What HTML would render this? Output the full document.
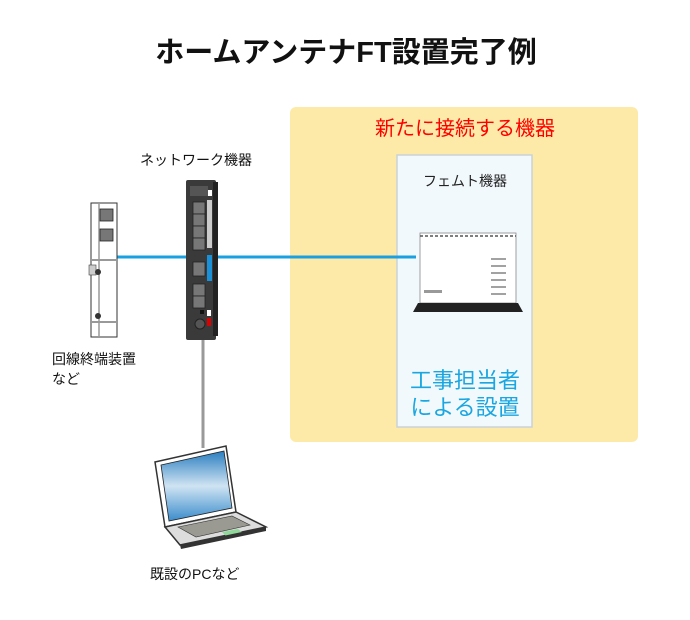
<!DOCTYPE html>
<html><head><meta charset="utf-8"><style>
body{margin:0;background:#fff;}
svg{display:block;}
text{font-family:"Liberation Sans","Noto Sans CJK JP",sans-serif;}
</style></head><body>
<svg width="690" height="620" viewBox="0 0 690 620">
<text x="346" y="62" text-anchor="middle" font-size="29" font-weight="bold" fill="#111">ホームアンテナFT設置完了例</text>
<rect x="290" y="107" width="348" height="335" rx="6" fill="#feeaa8"/>
<text x="465" y="135" text-anchor="middle" font-size="20" fill="#f00">新たに接続する機器</text>
<rect x="397" y="155" width="135" height="272" fill="#f2f9fd" stroke="#c8d2d8" stroke-width="1.5"/>
<text x="465" y="186" text-anchor="middle" font-size="14" fill="#222">フェムト機器</text>
<text x="465" y="388" text-anchor="middle" font-size="22" fill="#1aa6e0">工事担当者</text>
<text x="465" y="415" text-anchor="middle" font-size="22" fill="#1aa6e0">による設置</text>
<line x1="117" y1="257" x2="416" y2="257" stroke="#1aa0e0" stroke-width="3"/>
<line x1="203" y1="340" x2="203" y2="448" stroke="#999" stroke-width="3"/>
<rect x="420" y="233" width="96" height="70" fill="#fff" stroke="#888" stroke-width="0.8"/>
<line x1="420" y1="236" x2="516" y2="236" stroke="#555" stroke-width="1.5" stroke-dasharray="3,2"/>
<g stroke="#444" stroke-width="1">
<line x1="491" y1="259" x2="506" y2="259"/><line x1="491" y1="266" x2="506" y2="266"/><line x1="491" y1="273" x2="506" y2="273"/><line x1="491" y1="280" x2="506" y2="280"/><line x1="491" y1="287" x2="506" y2="287"/><line x1="491" y1="294" x2="506" y2="294"/>
</g>
<rect x="424" y="290" width="18" height="3" fill="#999"/>
<path d="M418 303 H518 L523 312 H413 Z" fill="#222"/>
<rect x="186" y="180" width="30" height="160" rx="2" fill="#3a3a3a"/>
<rect x="213" y="182" width="5" height="154" fill="#222"/>
<rect x="190" y="186" width="18" height="10" fill="#555"/>
<rect x="208" y="190" width="4" height="6" fill="#fff"/>
<g fill="#777" stroke="#222" stroke-width="0.8">
<rect x="193" y="202" width="12" height="12"/><rect x="193" y="214" width="12" height="12"/><rect x="193" y="226" width="12" height="12"/><rect x="193" y="238" width="12" height="12"/>
<rect x="193" y="262" width="12" height="14"/>
<rect x="193" y="284" width="12" height="12"/><rect x="193" y="296" width="12" height="12"/>
</g>
<rect x="207" y="200" width="5" height="48" fill="#ccc"/>
<rect x="207" y="255" width="5" height="26" fill="#1a90d8"/>
<rect x="207" y="310" width="4" height="6" fill="#fff"/>
<rect x="207" y="318" width="4" height="8" fill="#d00"/>
<circle cx="200" cy="324" r="5" fill="#555" stroke="#222"/>
<rect x="200" y="310" width="4" height="4" fill="#111"/>
<rect x="91" y="203" width="26" height="134" fill="#fff" stroke="#333" stroke-width="1"/>
<line x1="99" y1="203" x2="99" y2="337" stroke="#999" stroke-width="1.5"/>
<g fill="#777" stroke="#222" stroke-width="0.8">
<rect x="100" y="209" width="13" height="12"/><rect x="100" y="229" width="13" height="12"/>
</g>
<line x1="91" y1="260" x2="117" y2="260" stroke="#999" stroke-width="2"/>
<line x1="91" y1="322" x2="117" y2="322" stroke="#999" stroke-width="2"/>
<rect x="89" y="265" width="7" height="10" fill="#ccc" stroke="#444" stroke-width="0.6"/>
<circle cx="98" cy="272" r="3" fill="#333"/><circle cx="98" cy="316" r="3" fill="#333"/>
<path d="M155 462 L226 446 L236 512 L165 527 Z" fill="#fff" stroke="#333" stroke-width="1.5"/>
<defs><linearGradient id="sc" x1="0" y1="0" x2="0" y2="1"><stop offset="0" stop-color="#2a7ec0"/><stop offset="0.5" stop-color="#cfe4f2"/><stop offset="1" stop-color="#3b8ccb"/></linearGradient></defs>
<path d="M161 465 L224 451 L232 508 L169 521 Z" fill="url(#sc)" stroke="#222" stroke-width="0.8"/>
<path d="M165 527 L236 512 L266 527 L180 545 Z" fill="#ddd" stroke="#333" stroke-width="1.5"/>
<path d="M178 527 L232 516 L250 525 L196 537 Z" fill="#9a9a92" stroke="#333" stroke-width="0.6"/>
<path d="M222 532 L238 529 L243 533 L227 537 Z" fill="#8fd89a"/>
<path d="M180 545 L266 527 L266 531 L181 549 Z" fill="#333"/>
<text x="140" y="165" font-size="14" fill="#111">ネットワーク機器</text>
<text x="52" y="364" font-size="14" fill="#111">回線終端装置</text>
<text x="52" y="384" font-size="14" fill="#111">など</text>
<text x="150" y="579" font-size="14" fill="#111">既設のPCなど</text>
</svg>
</body></html>
